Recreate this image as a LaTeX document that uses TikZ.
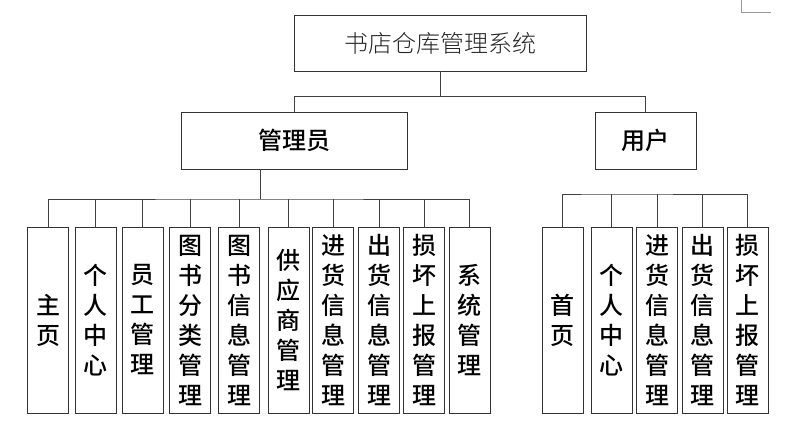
\documentclass[tikz,border=0pt]{standalone}
\usepackage{fontspec}
\usepackage{tikz}
\newfontfamily\cjk{Noto Sans CJK SC}[UprightFont={* Medium}]
\newfontfamily\cjklight{Noto Sans CJK SC}[UprightFont={* Light}]

\begin{document}
\begin{tikzpicture}[
    x=1pt, y=-1pt,
    line width=0.8pt,
    every node/.style={draw=black!80, inner sep=0pt, align=center},
    racine/.style={minimum width=292pt, minimum height=56pt,
      font=\cjklight\fontsize{24}{30}\selectfont, text=black!85},
    role/.style={minimum height=57pt, font=\cjk\fontsize{24}{30}\selectfont},
    feuille/.style={minimum width=41pt, minimum height=186pt,
      font=\cjk\fontsize{24}{30}\selectfont},
    lien/.style={draw=black!75},
  ]
  \useasboundingbox (0,0) rectangle (794,421);
  % petite marque du coin de page
  \draw[black!40] (741,0) -- (741,12) -- (771,12);

  \node[racine] (sys) at (440,43) {书店仓库管理系统};
  \node[role, minimum width=226pt] (admin) at (294,140.5) {管理员};
  \node[role, minimum width=101pt] (user) at (645.5,140.5) {用户};

  \node[feuille] (a1) at (48,320) {主\\页};
  \node[feuille] (a2) at (95.5,320) {个\\人\\中\\心};
  \node[feuille] (a3) at (142.5,320) {员\\工\\管\\理};
  \node[feuille] (a4) at (190,320) {图\\书\\分\\类\\管\\理};
  \node[feuille] (a5) at (239,320) {图\\书\\信\\息\\管\\理};
  \node[feuille] (a6) at (288.5,320) {供\\应\\商\\管\\理};
  \node[feuille] (a7) at (333,320) {进\\货\\信\\息\\管\\理};
  \node[feuille] (a8) at (379,320) {出\\货\\信\\息\\管\\理};
  \node[feuille] (a9) at (424,320) {损\\坏\\上\\报\\管\\理};
  \node[feuille] (a10) at (469.5,320) {系\\统\\管\\理};

  \node[feuille] (u1) at (562.5,320) {首\\页};
  \node[feuille] (u2) at (611.5,320) {个\\人\\中\\心};
  \node[feuille] (u3) at (657,320) {进\\货\\信\\息\\管\\理};
  \node[feuille] (u4) at (702.5,320) {出\\货\\信\\息\\管\\理};
  \node[feuille] (u5) at (747.5,320) {损\\坏\\上\\报\\管\\理};

  \coordinate (abus) at (260,199);
  \coordinate (ubus) at (600,194);

  \draw[lien] (sys.south) -- ++(0,25) -| (admin.north);
  \draw[lien] (sys.south) ++(0,25) -| (user.north);

  \draw[lien] (admin.south -| abus) -- (abus);
  \draw[lien] (a1.north) |- (abus) -| (a10.north)
    (a2.north) -- (a2.north |- abus)
    (a3.north) -- (a3.north |- abus)
    (a4.north) -- (a4.north |- abus)
    (a5.north) -- (a5.north |- abus)
    (a6.north) -- (a6.north |- abus)
    (a7.north) -- (a7.north |- abus)
    (a8.north) -- (a8.north |- abus)
    (a9.north) -- (a9.north |- abus);

  \draw[lien] (u1.north) |- (ubus) -| (u5.north)
    (u2.north) -- (u2.north |- ubus)
    (u3.north) -- (u3.north |- ubus)
    (u4.north) -- (u4.north |- ubus);
\end{tikzpicture}
\end{document}
